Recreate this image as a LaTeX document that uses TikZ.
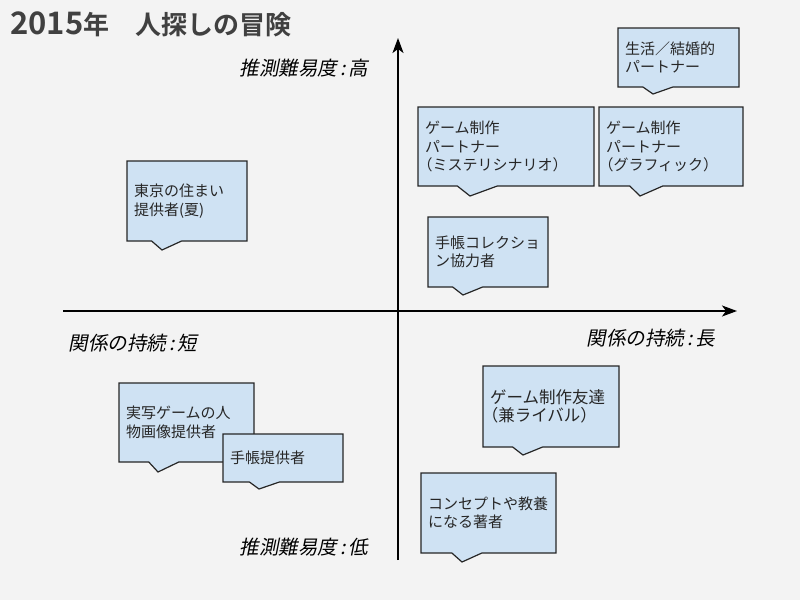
\documentclass[tikz,border=0pt]{standalone}
\usepackage{fontspec}
\usetikzlibrary{shapes.callouts,arrows.meta}
\newfontfamily\jp{Noto Sans CJK JP}
\newfontfamily\jpbold{Noto Sans CJK JP Bold}
\newfontfamily\jpit{Noto Sans CJK JP}[FakeSlant=0.2]
\definecolor{bg}{RGB}{243,243,243}
\definecolor{boxblue}{RGB}{207,226,243}
\definecolor{ttl}{RGB}{64,64,64}
\newcommand{\lpar}{\leavevmode\kern-.5em（}

\tikzset{
  callbox/.style={rectangle callout, draw=black!85, fill=boxblue, line width=1.2pt,
    align=left, inner xsep=7pt, inner ysep=0pt, outer sep=0pt, anchor=north west,
    text=black!85, font=\jp\fontsize{15}{18.5}\selectfont, callout pointer width=30pt},
  axislabel/.style={font=\jpit\fontsize{19.5}{19.5}\selectfont, inner sep=0pt},
  axisline/.style={line width=1.5pt, -{Stealth[length=15pt,width=11pt,inset=4pt]}}
}

\begin{document}
\begin{tikzpicture}[x=1pt,y=-1pt]
  \fill[bg] (0,0) rectangle (800,600);
  \useasboundingbox (0,0) rectangle (800,600);
  \node[anchor=west, text=ttl, inner sep=0pt] (title) at (10,24) {\jpbold{\fontsize{31}{31}\selectfont 2015}\fontsize{26}{26}\selectfont 年　人探しの冒険};

  % axes
  \coordinate (xs) at (63,311);
  \coordinate (xe) at (737,311);
  \coordinate (ys) at (398,560);
  \coordinate (ye) at (398,38);
  \draw[axisline] (xs) -- (xe);
  \draw[axisline] (ys) -- (ye);
  \node[axislabel] (high) at (304,68) {推測難易度\,:\,高};
  \node[axislabel] (low) at (304,547) {推測難易度\,:\,低};
  \node[axislabel] (short) at (133,343) {関係の持続\,:\,短};
  \node[axislabel] (long) at (651,338) {関係の持続\,:\,長};

  % partners
  \node[callbox, text width=107pt, minimum height=59pt, callout absolute pointer={(653,94)}] (life) at (618,28) {生活／結婚的\\パートナー};
  \node[callbox, text width=162pt, minimum height=79pt, callout pointer width=40pt, callout absolute pointer={(470,196)}] (mystery) at (418,107) {ゲーム制作\\パートナー\\\lpar ミステリシナリオ）};
  \node[callbox, text width=130pt, minimum height=79pt, callout pointer width=33pt, callout absolute pointer={(640,196)}] (graphic) at (599,107) {ゲーム制作\\パートナー\\\lpar グラフィック）};
  \node[callbox, text width=106pt, minimum height=70pt, callout absolute pointer={(463,295)}] (collect) at (428,217) {手帳コレクショ\\ン協力者};
  \node[callbox, text width=106pt, minimum height=80pt, callout absolute pointer={(162,250)}] (tokyo) at (127,161) {東京の住まい\\提供者(夏)};
  \node[callbox, text width=122pt, minimum height=81pt, font=\jp\fontsize{16.5}{18.5}\selectfont, callout absolute pointer={(523,455)}] (rival) at (483,366) {ゲーム制作友達\\\lpar 兼ライバル）};
  \node[callbox, text width=121pt, minimum height=80pt, callout absolute pointer={(462,562)}] (author) at (421,473) {コンセプトや教養\\になる著者};
  \node[callbox, text width=121pt, minimum height=79pt, callout absolute pointer={(158,472)}] (photo) at (119,383) {実写ゲームの人\\物画像提供者};
  \node[callbox, text width=106pt, minimum height=48pt, callout absolute pointer={(259,489)}] (notebook) at (223,434) {手帳提供者};
\end{tikzpicture}
\end{document}
